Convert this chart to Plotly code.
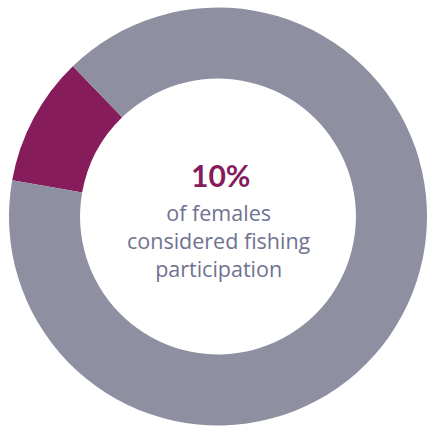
import plotly.graph_objects as go

labels = ["Fishing participation", "Other"]
values = [10, 90]
colors = ["#861c5c", "#8e8fa1"]
headline = "10%"
caption_lines = ["of females", "considered fishing", "participation"]

W, H = 427, 429

fig = go.Figure(go.Pie(
    labels=labels,
    values=values,
    hole=0.66,
    sort=False,
    direction="counterclockwise",
    rotation=-80,
    marker=dict(colors=colors, line=dict(width=0)),
    textinfo="none",
    hoverinfo="label+percent",
    showlegend=False,
    domain=dict(x=[9 / W, 1.0], y=[3.5 / H, 421.5 / H]),
))

def py(top_px):
    return 1 - top_px / H

fig.add_annotation(text="<b>" + headline + "</b>", x=220 / W, y=py(175),
                   xref="paper", yref="paper", showarrow=False,
                   xanchor="center", yanchor="middle",
                   font=dict(family="Lato", size=30, color="#861c5c"))
fig.add_annotation(text="<br>".join(caption_lines), x=219 / W, y=py(240),
                   xref="paper", yref="paper", showarrow=False,
                   xanchor="center", yanchor="middle", align="center",
                   font=dict(family="Open Sans", size=21.5, color="#6f7290"))

fig.update_layout(width=W, height=H, margin=dict(l=0, r=0, t=0, b=0),
                  paper_bgcolor="white", plot_bgcolor="white")
fig.write_html("out.html", config={"displayModeBar": False},
               post_script="document.body.style.margin='0';")
